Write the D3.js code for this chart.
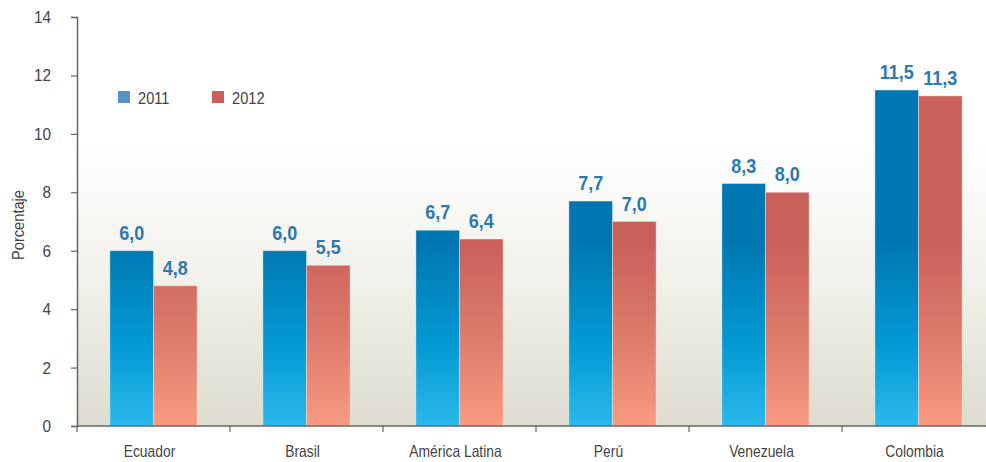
<!DOCTYPE html>
<html><head><meta charset="utf-8">
<script src="https://cdn.jsdelivr.net/npm/d3@7"></script>
<style>
body{margin:0;background:#fff;}
text{font-family:"Liberation Sans Narrow","Arial Narrow","Liberation Sans",sans-serif;}
</style></head>
<body><svg id="c" width="986" height="462"></svg>
<script>
const categories = ["Ecuador","Brasil","América Latina","Perú","Venezuela","Colombia"];
const series = ["2011","2012"];
const values2011 = [6.0,6.0,6.7,7.7,8.3,11.5];
const values2012 = [4.8,5.5,6.4,7.0,8.0,11.3];
const yTicks = [0,2,4,6,8,10,12,14];
const valueLabels2011 = ["6,0","6,0","6,7","7,7","8,3","11,5"];
const valueLabels2012 = ["4,8","5,5","6,4","7,0","8,0","11,3"];

(function(){
const svg = d3.select("#c");
const W = 986, H = 462;
const mLeft = 77, mRight = 995, mTop = 17, mBottom = 426;

function condense(sel, f){
  sel.each(function(){
    const len = this.getComputedTextLength();
    d3.select(this).attr("textLength", len*f).attr("lengthAdjust","spacingAndGlyphs");
  });
}

const y = d3.scaleLinear().domain([0,14]).range([mBottom, mTop]);
const x0 = d3.scaleBand().domain(categories).range([mLeft, mRight]).padding(0);
const bw = x0.bandwidth();
const x1 = d3.scaleBand().domain(series).range([bw*0.215, bw*0.785]).padding(0);

const defs = svg.append("defs");
const bg = defs.append("linearGradient").attr("id","bg").attr("x1",0).attr("y1",0).attr("x2",0).attr("y2",1);
bg.append("stop").attr("offset","0").attr("stop-color","#ffffff");
bg.append("stop").attr("offset","0.3").attr("stop-color","#ffffff");
bg.append("stop").attr("offset","0.65").attr("stop-color","#f1f0ea");
bg.append("stop").attr("offset","1").attr("stop-color","#dedccf");

function barGrad(id, c1, c2, c3){
  const g = defs.append("linearGradient").attr("id",id).attr("gradientUnits","userSpaceOnUse")
    .attr("x1",0).attr("x2",0).attr("y1",y(14)).attr("y2",y(0));
  g.append("stop").attr("offset","0").attr("stop-color",c1);
  g.append("stop").attr("offset","0.55").attr("stop-color",c1);
  g.append("stop").attr("offset","0.8").attr("stop-color",c2);
  g.append("stop").attr("offset","1").attr("stop-color",c3);
}
barGrad("g2011","#0077b2","#0399d3","#2bb9ec");
barGrad("g2012","#c9605a","#e07d6e","#f89a80");

svg.append("rect").attr("x",mLeft).attr("y",mTop).attr("width",W-mLeft).attr("height",mBottom-mTop).attr("fill","url(#bg)");

const data = categories.map((c,i)=>({cat:c, vals:[
  {s:"2011", v:values2011[i], lab:valueLabels2011[i]},
  {s:"2012", v:values2012[i], lab:valueLabels2012[i]}]}));

const grp = svg.append("g").selectAll("g").data(data).join("g")
  .attr("transform", d=>`translate(${x0(d.cat)},0)`);
grp.selectAll("rect").data(d=>d.vals).join("rect")
  .attr("x", d=>x1(d.s)).attr("width", x1.bandwidth())
  .attr("y", d=>y(d.v)).attr("height", d=>y(0)-y(d.v))
  .attr("fill", d=>`url(#g${d.s})`)
  .attr("stroke","rgba(255,255,255,0.35)").attr("stroke-width",1);
const vl = grp.selectAll("text").data(d=>d.vals).join("text")
  .attr("x", d=>x1(d.s)+x1.bandwidth()/2).attr("y", d=>y(d.v)-11)
  .attr("text-anchor","middle").attr("font-weight","bold").attr("font-size",20)
  .attr("fill","#2c79ad").text(d=>d.lab);
condense(vl, 0.9);

const yAxis = svg.append("g").attr("transform",`translate(${mLeft},0)`)
  .call(d3.axisLeft(y).tickValues(yTicks).tickSize(6).tickPadding(20).tickFormat(d3.format("d")));
yAxis.select(".domain").attr("stroke","#666").attr("stroke-width",1.5);
yAxis.selectAll(".tick line").attr("stroke","#666").attr("stroke-width",1.2);
const yt = yAxis.selectAll(".tick text").attr("font-size",17).attr("fill","#444")
  .attr("font-family","'Liberation Sans Narrow','Arial Narrow','Liberation Sans',sans-serif");
condense(yt, 0.9);

const xAxisG = svg.append("g").attr("transform",`translate(0,${mBottom})`);
xAxisG.append("line").attr("x1",mLeft).attr("x2",W).attr("y1",0).attr("y2",0)
  .attr("stroke","#666").attr("stroke-width",1.5);
const boundaries = categories.map(c=>x0(c)).concat([mRight]);
xAxisG.selectAll("line.t").data(boundaries).join("line").attr("class","t")
  .attr("x1",d=>d).attr("x2",d=>d).attr("y1",0).attr("y2",6).attr("stroke","#666").attr("stroke-width",1.2);
const xt = xAxisG.selectAll("text").data(categories).join("text")
  .attr("x", d=>x0(d)+bw/2 - 4).attr("y", 31).attr("text-anchor","middle")
  .attr("font-size",16.5).attr("fill","#444").text(d=>d);
condense(xt, 0.84);

const yl = svg.append("text").attr("transform","translate(24,225) rotate(-90)")
  .attr("text-anchor","middle").attr("font-size",17).attr("fill","#444").text("Porcentaje");
condense(yl, 0.86);

const legendColors = {"2011":"#5592c8","2012":"#c9605a"};
const legendX = [118, 212];
const lg = svg.append("g").selectAll("g").data(series).join("g")
  .attr("transform",(d,i)=>`translate(${legendX[i]},91)`);
lg.append("rect").attr("width",12).attr("height",12).attr("fill",d=>legendColors[d]);
const lt = lg.append("text").attr("x",20).attr("y",12.5).attr("font-size",17).attr("fill","#444").text(d=>d);
condense(lt, 0.86);
})();
</script></body></html>
